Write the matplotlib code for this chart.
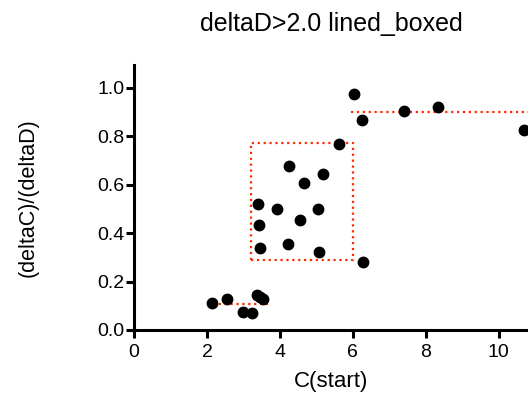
import matplotlib
matplotlib.use("Agg")
import matplotlib.pyplot as plt

x_vals = [2.13, 2.56, 2.98, 3.24, 3.37, 3.45, 3.53,
          3.40, 3.43, 3.46, 3.93, 4.26, 4.23, 4.56, 4.67, 5.03, 5.18, 5.08, 5.63,
          6.03, 6.25, 6.27, 7.40, 8.34, 10.69]
y_vals = [0.113, 0.127, 0.073, 0.070, 0.145, 0.135, 0.127,
          0.521, 0.433, 0.340, 0.500, 0.679, 0.354, 0.455, 0.606, 0.500, 0.643, 0.321, 0.769,
          0.977, 0.869, 0.281, 0.905, 0.921, 0.828]

low_line_x = [2.01, 3.73]
low_line_y = [0.106, 0.106]
box_x = [3.22, 5.99, 5.99, 3.22, 3.22]
box_y = [0.289, 0.289, 0.774, 0.774, 0.289]
high_line_x = [5.94, 11.0]
high_line_y = [0.90, 0.90]

xticks = [0, 2, 4, 6, 8, 10]
yticks = [0.0, 0.2, 0.4, 0.6, 0.8, 1.0]

plt.rcParams['font.family'] = ['Liberation Sans', 'DejaVu Sans']
fig = plt.figure(figsize=(5.28, 3.97), dpi=100)
ax = fig.add_axes([134/528, 67/397, 1 - 134/528, (330-65)/397])

red = '#ff2a00'
ax.plot(low_line_x, low_line_y, color=red, ls=':', lw=1.6, zorder=2)
ax.plot(box_x, box_y, color=red, ls=':', lw=1.6, zorder=2)
ax.plot(high_line_x, high_line_y, color=red, ls=':', lw=1.6, zorder=2)
ax.plot(x_vals, y_vals, 'o', color='black', ms=7.5, zorder=3, clip_on=False)

ax.set_xlim(0, 10.8)
ax.set_ylim(0, 1.095)
ax.set_xticks(xticks)
ax.set_xticklabels([str(t) for t in xticks])
ax.set_yticks(yticks)
ax.set_yticklabels([f"{t:.1f}" for t in yticks])
for s in ['top', 'right']:
    ax.spines[s].set_visible(False)
for s in ['left', 'bottom']:
    ax.spines[s].set_linewidth(2.2)
ax.tick_params(width=2.2, length=6, labelsize=14)
ax.tick_params(axis='x', pad=4)
ax.tick_params(axis='y', pad=1)
ax.set_xlabel('C(start)', fontsize=16)
ax.xaxis.set_label_coords((331-134)/394, (330-382)/265)
ax.xaxis.label.set_va('center')
ax.set_ylabel('(deltaC)/(deltaD)', fontsize=15.5)
ax.yaxis.set_label_coords((28-134)/394, 0.5)
ax.yaxis.label.set_va('center')
fig.text(331/528, 1 - 24/397, 'deltaD>2.0 lined_boxed', fontsize=18, ha='center', va='center')

fig.savefig('out.png', dpi=100)
